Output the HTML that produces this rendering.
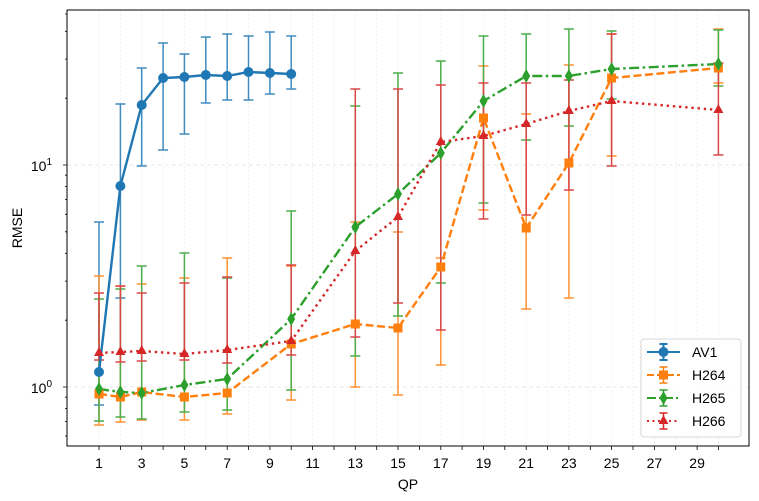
<!DOCTYPE html>
<html><head><meta charset="utf-8"><style>
body{margin:0;background:#fff}
svg{display:block;font-family:"Liberation Sans","DejaVu Sans",sans-serif}
</style></head><body>
<svg width="759" height="501" viewBox="0 0 759 501" xmlns="http://www.w3.org/2000/svg">
<rect width="759" height="501" fill="#fff"/>
<g stroke="#e6e6e6" stroke-width="0.8" stroke-dasharray="1.5,2.5">
<path d="M99 10V446M120.4 10V446M141.7 10V446M163.1 10V446M184.4 10V446M205.8 10V446M227.2 10V446M248.5 10V446M269.9 10V446M291.2 10V446M312.6 10V446M334 10V446M355.3 10V446M376.7 10V446M398 10V446M419.4 10V446M440.8 10V446M462.1 10V446M483.5 10V446M504.8 10V446M526.2 10V446M547.6 10V446M568.9 10V446M590.3 10V446M611.6 10V446M633 10V446M654.4 10V446M675.7 10V446M697.1 10V446M718.4 10V446"/>
</g>
<g stroke="#e0e0e0" stroke-width="0.8" stroke-dasharray="4,3"><path d="M67 165H749M67 387H749"/></g>

<g fill="none" stroke-width="1.5" opacity="0.85">
<path stroke="#1f77b4" d="M94 222H104M99 222V405M94 405H104M115.4 104H125.4M120.4 104V298M115.4 298H125.4M136.7 68H146.7M141.7 68V166M136.7 166H146.7M158.1 43H168.1M163.1 43V150M158.1 150H168.1M179.4 54H189.4M184.4 54V134M179.4 134H189.4M200.8 37H210.8M205.8 37V103M200.8 103H210.8M222.2 34H232.2M227.2 34V100M222.2 100H232.2M243.5 36H253.5M248.5 36V100M243.5 100H253.5M264.9 32H274.9M269.9 32V94M264.9 94H274.9M286.2 36H296.2M291.2 36V89M286.2 89H296.2"/>
<path stroke="#ff7f0e" d="M94 276H104M99 276V425M94 425H104M115.4 286H125.4M120.4 286V422M115.4 422H125.4M136.7 284H146.7M141.7 284V420M136.7 420H146.7M179.4 278H189.4M184.4 278V420M179.4 420H189.4M222.2 258H232.2M227.2 258V414M222.2 414H232.2M286.2 266H296.2M291.2 266V400M286.2 400H296.2M350.3 222H360.3M355.3 222V387M350.3 387H360.3M393 232H403M398 232V395M393 395H403M435.8 258H445.8M440.8 258V365M435.8 365H445.8M478.5 66H488.5M483.5 66V210M478.5 210H488.5M521.2 114H531.2M526.2 114V309M521.2 309H531.2M563.9 65H573.9M568.9 65V298M563.9 298H573.9M606.6 34H616.6M611.6 34V156M606.6 156H616.6M713.4 29H723.4M718.4 29V83M713.4 83H723.4"/>
<path stroke="#2ca02c" d="M94 299H104M99 299V421M94 421H104M115.4 289H125.4M120.4 289V417M115.4 417H125.4M136.7 266H146.7M141.7 266V419M136.7 419H146.7M179.4 253H189.4M184.4 253V412M179.4 412H189.4M222.2 278H232.2M227.2 278V410M222.2 410H232.2M286.2 211H296.2M291.2 211V390M286.2 390H296.2M350.3 106H360.3M355.3 106V356M350.3 356H360.3M393 73H403M398 73V316M393 316H403M435.8 61H445.8M440.8 61V283M435.8 283H445.8M478.5 36H488.5M483.5 36V203M478.5 203H488.5M521.2 34H531.2M526.2 34V140M521.2 140H531.2M563.9 29H573.9M568.9 29V126M563.9 126H573.9M606.6 31H616.6M611.6 31V99M606.6 99H616.6M713.4 30H723.4M718.4 30V86M713.4 86H723.4"/>
<path stroke="#d62728" d="M94 293H104M99 293V360M94 360H104M115.4 286H125.4M120.4 286V362M115.4 362H125.4M136.7 293H146.7M141.7 293V361M136.7 361H146.7M179.4 283H189.4M184.4 283V360M179.4 360H189.4M222.2 277H232.2M227.2 277V363M222.2 363H232.2M286.2 265H296.2M291.2 265V355M286.2 355H296.2M350.3 89H360.3M355.3 89V337M350.3 337H360.3M393 89H403M398 89V303M393 303H403M435.8 85H445.8M440.8 85V330M435.8 330H445.8M478.5 83H488.5M483.5 83V219M478.5 219H488.5M521.2 83H531.2M526.2 83V215M521.2 215H531.2M563.9 80H573.9M568.9 80V190M563.9 190H573.9M606.6 34H616.6M611.6 34V166M606.6 166H616.6M713.4 63H723.4M718.4 63V155M713.4 155H723.4"/>
</g>

<g fill="none" stroke-width="2.4">
<polyline stroke="#1f77b4" points="99,372 120.4,186 141.7,105 163.1,78 184.4,77 205.8,75 227.2,76 248.5,72 269.9,73 291.2,74"/>
<polyline stroke="#ff7f0e" stroke-dasharray="8,3.5" points="99,394 120.4,397 141.7,392 184.4,397 227.2,393 291.2,344 355.3,324 398,328 440.8,267 483.5,118 526.2,228 568.9,163 611.6,78 718.4,68"/>
<polyline stroke="#2ca02c" stroke-dasharray="10,3.5,2.5,3.5" points="99,389 120.4,392 141.7,393 184.4,385 227.2,379 291.2,319 355.3,227 398,194 440.8,153 483.5,101 526.2,76 568.9,76 611.6,69 718.4,64"/>
<polyline stroke="#d62728" stroke-dasharray="2.4,3.8" points="99,353 120.4,352 141.7,351 184.4,354 227.2,350 291.2,341 355.3,251 398,217 440.8,142 483.5,136 526.2,124 568.9,111 611.6,101 718.4,110"/>
</g>

<g fill="#1f77b4"><circle cx="99" cy="372" r="5"/><circle cx="120.4" cy="186" r="5"/><circle cx="141.7" cy="105" r="5"/><circle cx="163.1" cy="78" r="5"/><circle cx="184.4" cy="77" r="5"/><circle cx="205.8" cy="75" r="5"/><circle cx="227.2" cy="76" r="5"/><circle cx="248.5" cy="72" r="5"/><circle cx="269.9" cy="73" r="5"/><circle cx="291.2" cy="74" r="5"/></g>
<g fill="#ff7f0e"><rect x="94.5" y="389.5" width="9" height="9"/><rect x="115.9" y="392.5" width="9" height="9"/><rect x="137.2" y="387.5" width="9" height="9"/><rect x="179.9" y="392.5" width="9" height="9"/><rect x="222.7" y="388.5" width="9" height="9"/><rect x="286.7" y="339.5" width="9" height="9"/><rect x="350.8" y="319.5" width="9" height="9"/><rect x="393.5" y="323.5" width="9" height="9"/><rect x="436.3" y="262.5" width="9" height="9"/><rect x="479" y="113.5" width="9" height="9"/><rect x="521.7" y="223.5" width="9" height="9"/><rect x="564.4" y="158.5" width="9" height="9"/><rect x="607.1" y="73.5" width="9" height="9"/><rect x="713.9" y="63.5" width="9" height="9"/></g>
<g fill="#2ca02c">
<path d="M99 382l4 7-4 7-4-7zM120.4 385l4 7-4 7-4-7zM141.7 386l4 7-4 7-4-7zM184.4 378l4 7-4 7-4-7zM227.2 372l4 7-4 7-4-7zM291.2 312l4 7-4 7-4-7zM355.3 220l4 7-4 7-4-7zM398 187l4 7-4 7-4-7zM440.8 146l4 7-4 7-4-7zM483.5 94l4 7-4 7-4-7zM526.2 69l4 7-4 7-4-7zM568.9 69l4 7-4 7-4-7zM611.6 62l4 7-4 7-4-7zM718.4 57l4 7-4 7-4-7z"/></g>
<g fill="#d62728">
<path d="M99 347l5 9h-10zM120.4 346l5 9h-10zM141.7 345l5 9h-10zM184.4 348l5 9h-10zM227.2 344l5 9h-10zM291.2 335l5 9h-10zM355.3 245l5 9h-10zM398 211l5 9h-10zM440.8 136l5 9h-10zM483.5 130l5 9h-10zM526.2 118l5 9h-10zM568.9 105l5 9h-10zM611.6 95l5 9h-10zM718.4 104l5 9h-10z"/></g>

<rect x="67" y="10" width="682" height="436" fill="none" stroke="#000" stroke-width="1"/>
<g stroke="#000" stroke-width="0.8">
<path d="M99 446v4M120.4 446v4M141.7 446v4M163.1 446v4M184.4 446v4M205.8 446v4M227.2 446v4M248.5 446v4M269.9 446v4M291.2 446v4M312.6 446v4M334 446v4M355.3 446v4M376.7 446v4M398 446v4M419.4 446v4M440.8 446v4M462.1 446v4M483.5 446v4M504.8 446v4M526.2 446v4M547.6 446v4M568.9 446v4M590.3 446v4M611.6 446v4M633 446v4M654.4 446v4M675.7 446v4M697.1 446v4M718.4 446v4"/>
<path d="M63 165h4M63 387h4M65 436h2M65 421.4h2M65 408.5h2M65 397.2h2M65 320.2h2M65 281.1h2M65 253.3h2M65 231.8h2M65 214.3h2M65 199.4h2M65 186.5h2M65 175.2h2M65 98.2h2M65 59.1h2M65 31.3h2M65 14h2"/>
</g>
<g font-size="14" fill="#000" text-anchor="middle">
<text x="99" y="468">1</text><text x="141.7" y="468">3</text><text x="184.4" y="468">5</text><text x="227.2" y="468">7</text><text x="269.9" y="468">9</text><text x="312.6" y="468">11</text><text x="355.3" y="468">13</text><text x="398" y="468">15</text><text x="440.8" y="468">17</text><text x="483.5" y="468">19</text><text x="526.2" y="468">21</text><text x="568.9" y="468">23</text><text x="611.6" y="468">25</text><text x="654.4" y="468">27</text><text x="697.1" y="468">29</text>
</g>
<g font-size="14" fill="#000" text-anchor="end">
<text x="52" y="171">10<tspan font-size="10" dy="-6">1</tspan></text>
<text x="52" y="393">10<tspan font-size="10" dy="-6">0</tspan></text>
</g>
<text x="408" y="489" font-size="14" text-anchor="middle">QP</text>
<text x="22" y="228" font-size="14" text-anchor="middle" transform="rotate(-90 22 228)">RMSE</text>

<rect x="641" y="339" width="100" height="98" rx="3" fill="#fff" fill-opacity="0.85" stroke="#ccc" stroke-width="0.8"/>
<g stroke-width="2">
<path stroke="#1f77b4" d="M647 352H680M663.5 344V360M659.5 344h8M659.5 360h8"/><circle cx="663.5" cy="352" r="5" fill="#1f77b4"/>
<path stroke="#ff7f0e" stroke-dasharray="7,3" d="M647 375H680"/><path stroke="#ff7f0e" stroke-width="1.5" d="M663.5 367V383M659.5 367h8M659.5 383h8"/><rect x="659" y="370.5" width="9" height="9" fill="#ff7f0e"/>
<path stroke="#2ca02c" stroke-dasharray="9,3,2,3" d="M647 398H680"/><path stroke="#2ca02c" stroke-width="1.5" d="M663.5 390V406M659.5 390h8M659.5 406h8"/><path fill="#2ca02c" d="M663.5 391l4 7-4 7-4-7z"/>
<path stroke="#d62728" stroke-dasharray="2,3.5" d="M647 421H680"/><path stroke="#d62728" stroke-width="1.5" d="M663.5 413V429M659.5 413h8M659.5 429h8"/><path fill="#d62728" d="M663.5 415l5 9h-10z"/>
</g>
<g font-size="14" fill="#000">
<text x="692" y="357">AV1</text><text x="692" y="380">H264</text><text x="692" y="403">H265</text><text x="692" y="426">H266</text>
</g>
</svg>
</body></html>
